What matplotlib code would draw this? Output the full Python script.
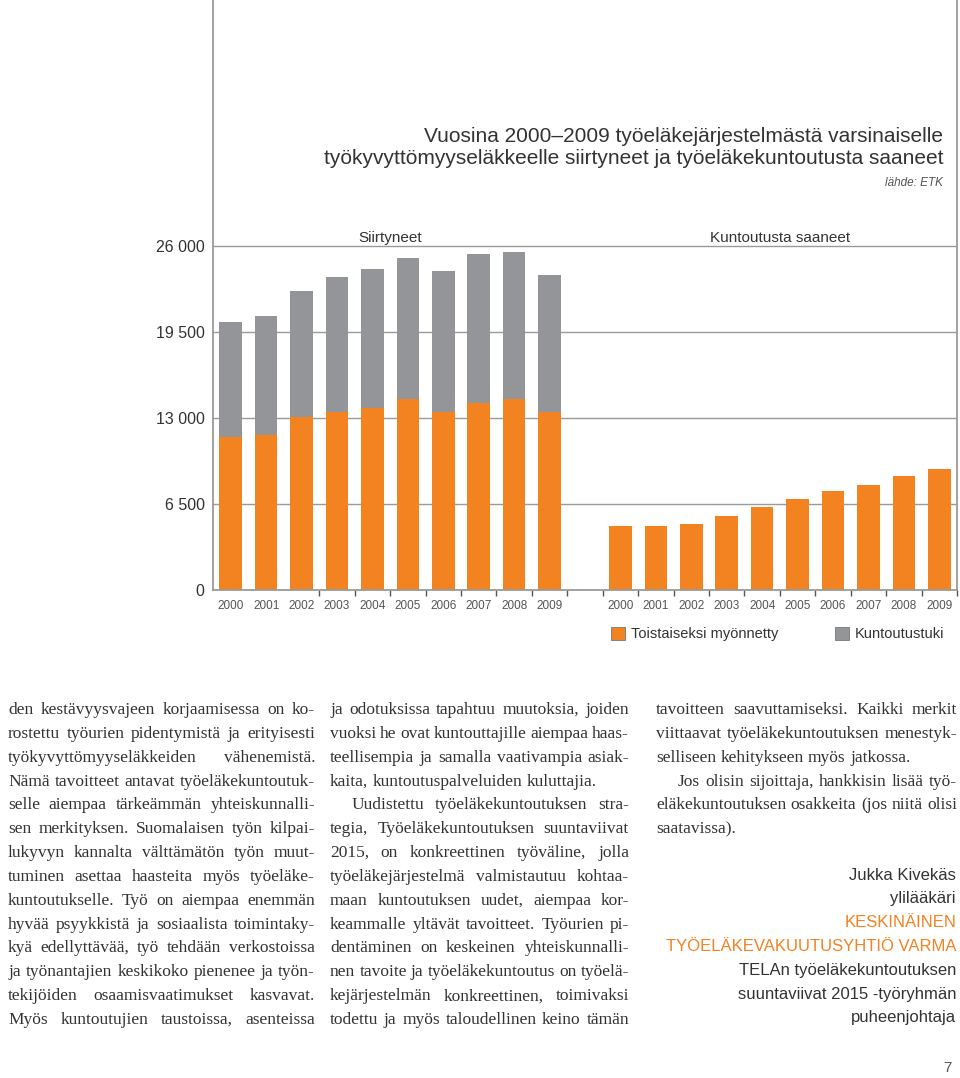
# -*- coding: utf-8 -*-
import matplotlib
matplotlib.use("Agg")
import matplotlib.pyplot as plt
from matplotlib.patches import Rectangle
from matplotlib.font_manager import FontProperties

# ---- chart data ----
years = ['2000', '2001', '2002', '2003', '2004', '2005', '2006', '2007', '2008', '2009']
siirt_toist = [11580, 11700, 13040, 13470, 13770, 14470, 13420, 14100, 14420, 13420]   # toistaiseksi myönnetty
siirt_kunt = [8640, 8990, 9540, 10190, 10470, 10650, 10720, 11300, 11130, 10420]       # kuntoutustuki
kunt_toist = [4850, 4850, 4980, 5590, 6240, 6900, 7460, 7960, 8600, 9150]              # kuntoutusta saaneet
yticks = [0, 6500, 13000, 19500, 26000]
ytick_labels = ['0', '6 500', '13 000', '19 500', '26 000']

title_lines = ['Vuosina 2000\u20132009 työeläkejärjestelmästä varsinaiselle',
               'työkyvyttömyyseläkkeelle siirtyneet ja työeläkekuntoutusta saaneet']
source = 'lähde: ETK'
panel_titles = ['Siirtyneet', 'Kuntoutusta saaneet']
legend_labels = ['Toistaiseksi myönnetty', 'Kuntoutustuki']

# ---- body text ----
col1 = ["den kestävyysvajeen korjaamisessa on ko-",
        "rostettu työurien pidentymistä ja erityisesti",
        "työkyvyttömyyseläkkeiden vähenemistä.",
        "Nämä tavoitteet antavat työeläkekuntoutuk-",
        "selle aiempaa tärkeämmän yhteiskunnalli-",
        "sen merkityksen. Suomalaisen työn kilpai-",
        "lukyvyn kannalta välttämätön työn muut-",
        "tuminen asettaa haasteita myös työeläke-",
        "kuntoutukselle. Työ on aiempaa enemmän",
        "hyvää psyykkistä ja sosiaalista toimintaky-",
        "kyä edellyttävää, työ tehdään verkostoissa",
        "ja työnantajien keskikoko pienenee ja työn-",
        "tekijöiden osaamisvaatimukset kasvavat.",
        "Myös kuntoutujien taustoissa, asenteissa"]
col2 = ["ja odotuksissa tapahtuu muutoksia, joiden",
        "vuoksi he ovat kuntouttajille aiempaa haas-",
        "teellisempia ja samalla vaativampia asiak-",
        "kaita, kuntoutuspalveluiden kuluttajia.",
        "Uudistettu työeläkekuntoutuksen stra-",
        "tegia, Työeläkekuntoutuksen suuntaviivat",
        "2015, on konkreettinen työväline, jolla",
        "työeläkejärjestelmä valmistautuu kohtaa-",
        "maan kuntoutuksen uudet, aiempaa kor-",
        "keammalle yltävät tavoitteet. Työurien pi-",
        "dentäminen on keskeinen yhteiskunnalli-",
        "nen tavoite ja työeläkekuntoutus on työelä-",
        "kejärjestelmän konkreettinen, toimivaksi",
        "todettu ja myös taloudellinen keino tämän"]
col3 = ["tavoitteen saavuttamiseksi. Kaikki merkit",
        "viittaavat työeläkekuntoutuksen menestyk-",
        "selliseen kehitykseen myös jatkossa.",
        "Jos olisin sijoittaja, hankkisin lisää työ-",
        "eläkekuntoutuksen osakkeita (jos niitä olisi",
        "saatavissa)."]
col2_last, col2_indent = [3], [4]
col3_last, col3_indent = [2, 5], [3]

signature = ['Jukka Kivekäs', 'ylilääkäri', 'KESKINÄINEN', 'TYÖELÄKEVAKUUTUSYHTIÖ VARMA',
             'TELAn työeläkekuntoutuksen', 'suuntaviivat 2015 -työryhmän', 'puheenjohtaja']
signature_orange = [2, 3]
page_no = '7'

ORANGE = '#f38220'
GRAY = '#939598'
LINE = '#9a9a9a'
TXT = '#333333'
SANS = 'Liberation Sans'
SERIF = 'Liberation Serif'

W, H = 960, 1078
fig = plt.figure(figsize=(W / 100, H / 100), dpi=100)


def fx(px):
    return px / W


def fy(py):
    return 1 - py / H


# ---- chart ----
x0, x1, ybase, y26 = 213, 957, 590, 246
ax = fig.add_axes([fx(x0), fy(ybase), fx(x1 - x0), ybase / H])
ax.set_xlim(-0.5, 20.5)
ax.set_ylim(0, 26000 * ybase / (ybase - y26))

xl = list(range(10))
xr = [i + 11 for i in range(10)]
bw = 0.64
ax.bar(xl, siirt_toist, width=bw, color=ORANGE, zorder=2)
ax.bar(xl, siirt_kunt, width=bw, bottom=siirt_toist, color=GRAY, zorder=2)
ax.bar(xr, kunt_toist, width=bw, color=ORANGE, zorder=2)

ax.spines['top'].set_visible(False)
for s in ['left', 'right', 'bottom']:
    ax.spines[s].set_color(LINE)
    ax.spines[s].set_linewidth(1.3)

ax.set_yticks(yticks)
ax.set_yticklabels(ytick_labels, fontsize=11.5, color=TXT, family=SANS)
ax.tick_params(axis='y', length=0, pad=6)
for y in yticks[1:]:
    ax.axhline(y, color=LINE, lw=1.0, zorder=1)

ax.set_xticks([i + 0.5 for i in range(2, 21)])
ax.set_xticklabels([])
ax.tick_params(axis='x', which='major', length=4, width=1, color='#555555', direction='out')
ax.set_xticks(xl + xr, minor=True)
ax.set_xticklabels(years + years, minor=True, fontsize=8.5, color='#555555', family=SANS)
ax.tick_params(axis='x', which='minor', length=0, pad=7)

ax.text(4.5, 26000 + 100, panel_titles[0], ha='center', va='bottom', fontsize=11, color=TXT, family=SANS)
ax.text(15.5, 26000 + 100, panel_titles[1], ha='center', va='bottom', fontsize=11, color=TXT, family=SANS)

# title + source
fig.text(fx(943), fy(136), title_lines[0], ha='right', va='center', fontsize=15, color=TXT, family=SANS)
fig.text(fx(943), fy(158), title_lines[1], ha='right', va='center', fontsize=15, color=TXT, family=SANS)
fig.text(fx(943), fy(183), source, ha='right', va='center', fontsize=8.5, color='#555555',
         family=SANS, style='italic')

# legend
fig.add_artist(Rectangle((fx(611), fy(640)), fx(14), 13 / H, facecolor=ORANGE, edgecolor='#777777',
                         lw=0.6, transform=fig.transFigure))
fig.text(fx(631), fy(634), legend_labels[0], ha='left', va='center', fontsize=10.5, color=TXT, family=SANS)
fig.add_artist(Rectangle((fx(835), fy(640)), fx(14), 13 / H, facecolor=GRAY, edgecolor='#777777',
                         lw=0.6, transform=fig.transFigure))
fig.text(fx(855), fy(634), legend_labels[1], ha='left', va='center', fontsize=10.5, color=TXT, family=SANS)

# ---- justified body text ----
renderer = fig.canvas.get_renderer()


def text_w(s, size):
    prop = FontProperties(family=SERIF, size=size)
    w, h, d = renderer.get_text_width_height_descent(s, prop, ismath=False)
    return w


columns = [(col1, 8, 315, [], []),
           (col2, 330, 629, col2_last, col2_indent),
           (col3, 656, 957, col3_last, col3_indent)]

# one font size for all body text: largest that lets every line fit
body_fs = 13.0
while body_fs > 9:
    ok = True
    for lines, left, right, last, indent in columns:
        for i, line in enumerate(lines):
            words = line.split(' ')
            need = sum(text_w(w, body_fs) for w in words) + 2.5 * (len(words) - 1)
            if need > right - left - (22 if i in indent else 0):
                ok = False
    if ok:
        break
    body_fs -= 0.25


def draw_column(lines, left, right, last, indent, fs=body_fs, top=709, step=23.85):
    for i, line in enumerate(lines):
        y = top + i * step + 5
        lx = left + (22 if i in indent else 0)
        words = line.split(' ')
        widths = [text_w(w, fs) for w in words]
        if i in last or len(words) == 1:
            gap = text_w('a a', fs) - 2 * text_w('a', fs)
        else:
            gap = (right - lx - sum(widths)) / (len(words) - 1)
        x = lx
        for w, ww in zip(words, widths):
            fig.text(fx(x), fy(y), w, ha='left', va='baseline', fontsize=fs, color=TXT, family=SERIF)
            x += ww + gap


for c in columns:
    draw_column(*c)

# signature
for i, s in enumerate(signature):
    fig.text(fx(956), fy(875 + i * 23.8), s, ha='right', va='center', fontsize=12,
             color=ORANGE if i in signature_orange else TXT, family=SANS)
fig.text(fx(952), fy(1068), page_no, ha='right', va='center', fontsize=11, color='#555555', family=SANS)

fig.savefig('out.png', dpi=100)
